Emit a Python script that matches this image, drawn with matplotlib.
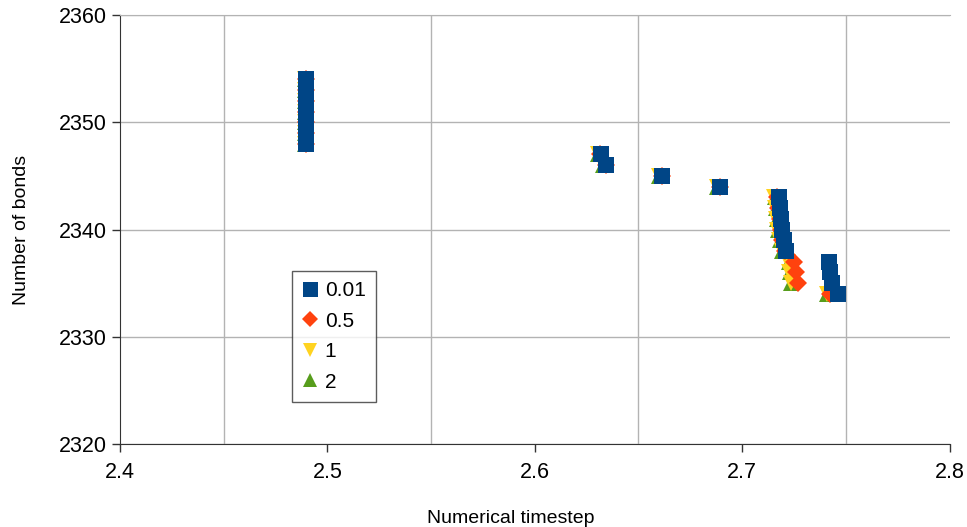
import numpy as np
from matplotlib import pyplot as plt

plt.rcParams['font.family'] = ['Liberation Sans', 'DejaVu Sans']

# series: timestep vs number of bonds
x_001 = [2.4895, 2.4895, 2.4895, 2.4895, 2.4895, 2.4895, 2.4895,
         2.6320, 2.6343, 2.6612, 2.6893,
         2.7176, 2.7181, 2.7186, 2.7191, 2.7200, 2.7212,
         2.7417, 2.7422, 2.7431, 2.7460]
y_001 = [2354, 2353, 2352, 2351, 2350, 2349, 2348,
         2347, 2346, 2345, 2344,
         2343, 2342, 2341, 2340, 2339, 2338,
         2337, 2336, 2335, 2334]

x_05 = [2.4895, 2.4895, 2.4895, 2.4895, 2.4895, 2.4895, 2.4895,
        2.6316, 2.6343, 2.6612, 2.6893,
        2.7170, 2.7175, 2.7180, 2.7185, 2.7194, 2.7206,
        2.7250, 2.7258, 2.7268, 2.7425]
y_05 = [2354, 2353, 2352, 2351, 2350, 2349, 2348,
        2347, 2346, 2345, 2344,
        2343, 2342, 2341, 2340, 2339, 2338,
        2337, 2336, 2335, 2334]

x_1 = [2.4894, 2.4894, 2.4894, 2.4894, 2.4894, 2.4894, 2.4894,
       2.6305, 2.6328, 2.6597, 2.6878,
       2.7155, 2.7160, 2.7165, 2.7170, 2.7178, 2.7190,
       2.7222, 2.7228, 2.7235, 2.7410]
y_1 = [2354, 2353, 2352, 2351, 2350, 2349, 2348,
       2347, 2346, 2345, 2344,
       2343, 2342, 2341, 2340, 2339, 2338,
       2337, 2336, 2335, 2334]

x_2 = [2.4894, 2.4894, 2.4894, 2.4894, 2.4894, 2.4894, 2.4894,
       2.6306, 2.6330, 2.6598, 2.6879,
       2.7157, 2.7162, 2.7167, 2.7172, 2.7180, 2.7192,
       2.7224, 2.7230, 2.7237, 2.7411]
y_2 = [2354, 2353, 2352, 2351, 2350, 2349, 2348,
       2347, 2346, 2345, 2344,
       2343, 2342, 2341, 2340, 2339, 2338,
       2337, 2336, 2335, 2334]

labels = ['0.01', '0.5', '1', '2']
colors = ['#004586', '#ff420e', '#ffd320', '#579d1c']

fig = plt.figure(figsize=(9.67, 5.27), dpi=100)
ax = fig.add_axes([0.124, 0.1575, 0.858, 0.814])

# drawn back to front so the blue squares end up on top
h2, = ax.plot(x_2, y_2, '^', color=colors[3], markersize=11, markeredgewidth=0, label=labels[3], zorder=3)
h1, = ax.plot(x_1, y_1, 'v', color=colors[2], markersize=11, markeredgewidth=0, label=labels[2], zorder=4)
h05, = ax.plot(x_05, y_05, 'D', color=colors[1], markersize=9.5, markeredgewidth=0, label=labels[1], zorder=5)
h001, = ax.plot(x_001, y_001, 's', color=colors[0], markersize=12, markeredgewidth=0, label=labels[0], zorder=6)

ax.set_xlim(2.4, 2.8)
ax.set_ylim(2320, 2360)
ax.set_xticks(np.arange(2.4, 2.81, 0.1))
ax.set_xticklabels(['2.4', '2.5', '2.6', '2.7', '2.8'])
ax.set_yticks(np.arange(2320, 2361, 10))
ax.set_xticks(np.arange(2.45, 2.8, 0.1), minor=True)

ax.grid(True, which='minor', axis='x', color='#b3b3b3', linewidth=1)
ax.grid(True, which='major', axis='y', color='#b3b3b3', linewidth=1)
ax.tick_params(axis='x', which='minor', length=0)
ax.tick_params(which='major', direction='out', length=6, width=1, color='#333333', labelsize=15.5)
ax.tick_params(axis='x', pad=7)

ax.spines['right'].set_visible(False)
ax.spines['top'].set_color('#b3b3b3')
ax.spines['left'].set_color('#333333')
ax.spines['bottom'].set_color('#333333')

ax.set_xlabel('Numerical timestep', fontsize=14)
ax.xaxis.set_label_coords(0.471, -0.155)
ax.set_ylabel('Number of bonds', fontsize=14)
ax.yaxis.set_label_coords(-0.108, 0.5)

leg = ax.legend(handles=[h001, h05, h1, h2], loc='lower left', bbox_to_anchor=(0.208, 0.098),
                fontsize=15, frameon=True, fancybox=False, handlelength=0.7,
                handletextpad=0.35, borderpad=0.5, labelspacing=0.55, borderaxespad=0,
                markerscale=0.9)
leg.get_frame().set_edgecolor('#333333')
leg.get_frame().set_linewidth(1)

plt.savefig('out.png', dpi=100)
